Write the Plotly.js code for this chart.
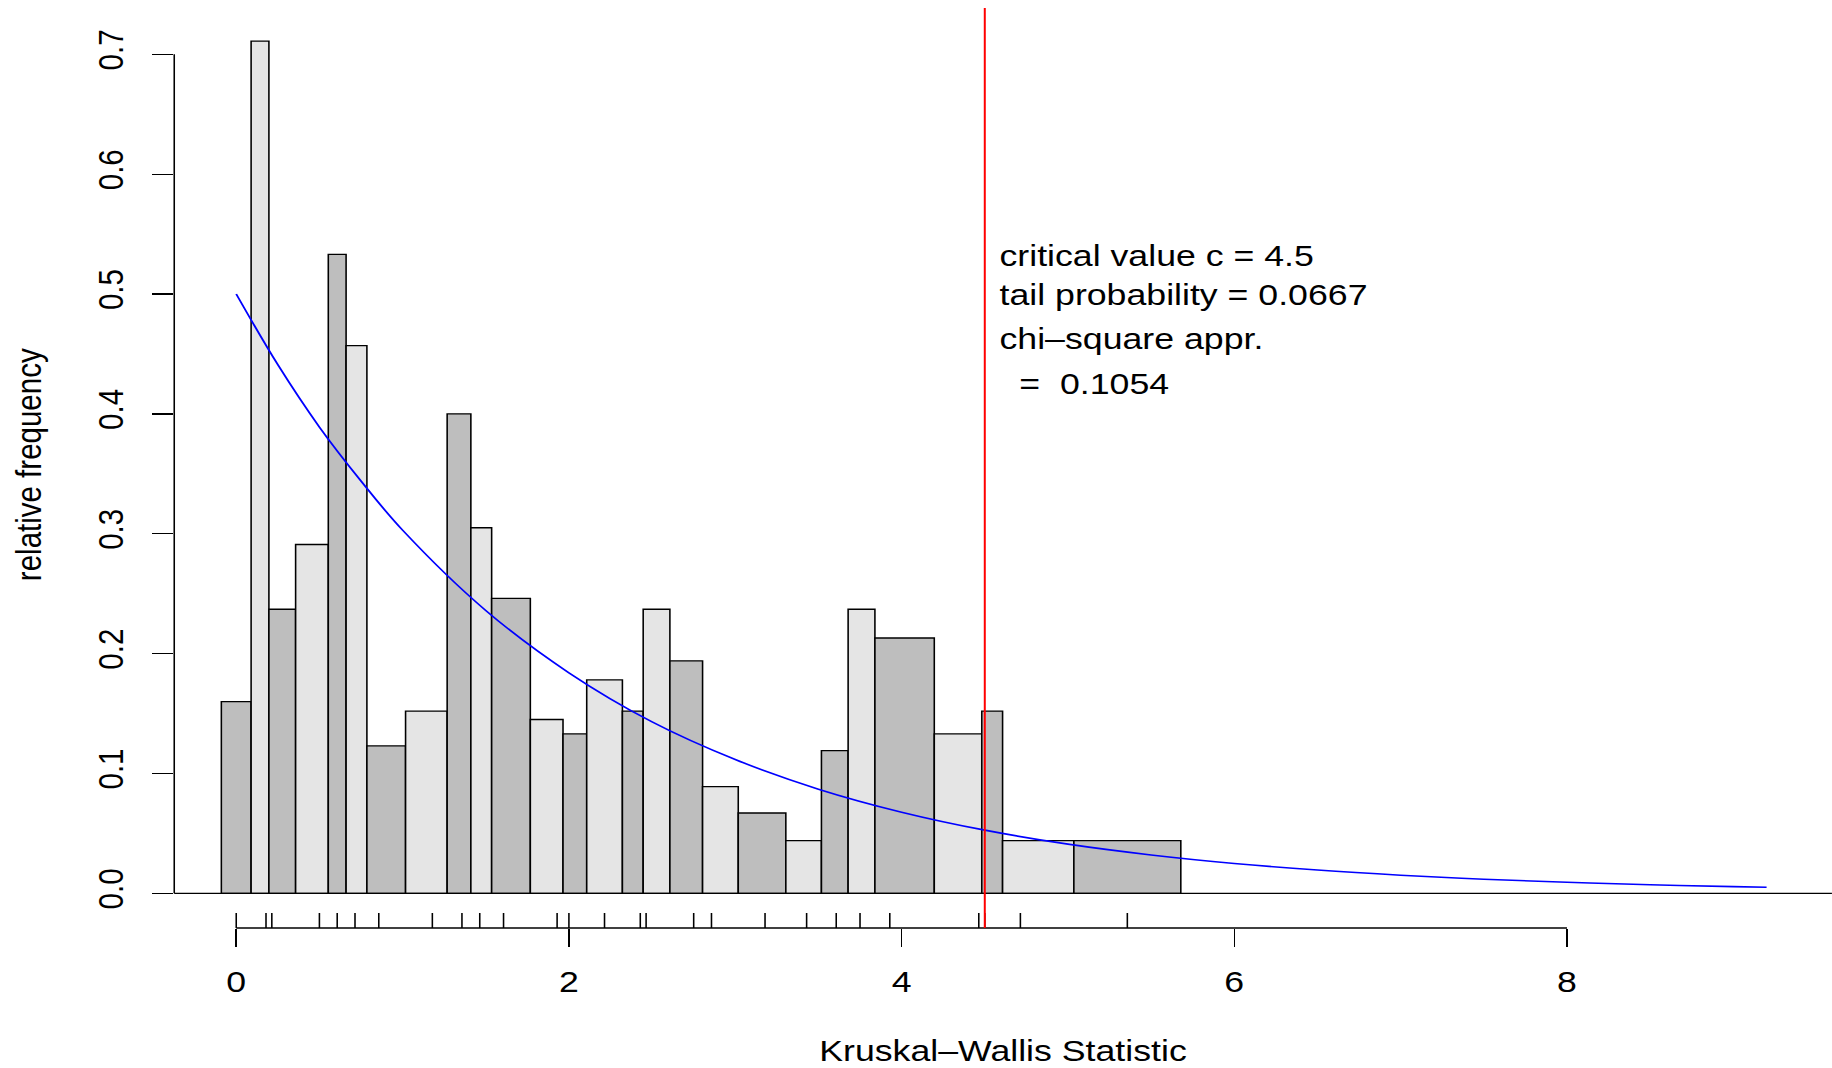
<!DOCTYPE html>
<html>
<head>
<meta charset="utf-8">
<script src="https://cdn.plot.ly/plotly-3.0.1.min.js"></script>
<style>
  html, body { margin: 0; padding: 0; background: #ffffff; overflow: hidden; }
  #wrap { width: 1832px; height: 1068px; overflow: hidden; position: relative; background: #fff; }
  #plot { position: absolute; left: 0; top: 0; transform-origin: 0 0; }
</style>
</head>
<body>
<div id="wrap"><div id="plot"></div></div>
<script>
// ---------------- data ----------------
// support points of the exact Kruskal-Wallis null distribution (rug ticks)
const support = [0, 0.179, 0.214, 0.5, 0.607, 0.714, 0.857, 1.179, 1.357, 1.464, 1.607,
                 1.929, 2.0, 2.214, 2.429, 2.464, 2.75, 2.857, 3.179, 3.429, 3.607, 3.75,
                 3.929, 4.464, 4.5, 4.714, 5.357];
// bar heights (relative frequency)
const relFreq = [0.160, 0.711, 0.237, 0.291, 0.533, 0.457, 0.123, 0.152, 0.400, 0.305, 0.246,
                 0.145, 0.133, 0.178, 0.152, 0.237, 0.194, 0.089, 0.067, 0.044, 0.119, 0.237,
                 0.213, 0.133, 0.152, 0.044, 0.044];
// chi-square approximation curve
const chiX = [0, 0.25, 0.5, 0.75, 1, 1.5, 2, 2.5, 3, 3.5, 4, 4.5, 5, 5.5, 6, 6.5, 7, 7.5, 8, 8.5, 9, 9.2];
const chiY = [0.500, 0.441, 0.389, 0.344, 0.303, 0.236, 0.184, 0.143, 0.1116, 0.0869, 0.0677, 0.0527,
              0.0410, 0.0320, 0.0249, 0.0194, 0.0151, 0.0117, 0.0092, 0.0071, 0.0056, 0.0050];
const critical = 4.5;
const xTickVals = [0, 2, 4, 6, 8];
const xTickText = ['0', '2', '4', '6', '8'];
const yTickVals = [0, 0.1, 0.2, 0.3, 0.4, 0.5, 0.6, 0.7];
const yTickText = ['0.0', '0.1', '0.2', '0.3', '0.4', '0.5', '0.6', '0.7'];
const infoLines = ['critical value c = 4.5', 'tail probability = 0.0667', 'chi\u2013square appr.',
                   '\u00a0\u00a0=\u00a0\u00a00.1054'];
const xTitle = 'Kruskal\u2013Wallis Statistic';
const yTitle = 'relative frequency';

// ---------------- geometry ----------------
const S = 1.21;                 // horizontal stretch of the reference rendering
const FULL_W = 1832, FULL_H = 1068;
const W = FULL_W / S;
const plotL = 174, plotR = 1832, plotT = 8, plotB = 928;   // plot region in page pixels
const x0px = 236, pxPerX = 166.375;                         // x = 0 position, pixels per unit
const y0px = 893.3, pxPerY = 1198.57;                       // y = 0 position, pixels per unit
const xRange = [(plotL - x0px) / pxPerX, (plotR - x0px) / pxPerX];
const yRange = [-(plotB - y0px) / pxPerY, (y0px - plotT) / pxPerY];
const plotH = plotB - plotT, plotW = plotR - plotL;
const FONT = 'Liberation Sans, Arial, Helvetica, sans-serif';
const FS = 29.5;
const LW = 1.3;

// bin edges: midpoints between neighbouring support points
const edges = [];
for (let i = 0; i < support.length - 1; i++) edges.push((support[i] + support[i + 1]) / 2);
const lefts = [2 * support[0] - edges[0]].concat(edges);
const rights = edges.concat([2 * support[support.length - 1] - edges[edges.length - 1]]);
const centers = lefts.map((l, i) => (l + rights[i]) / 2);
const widths = lefts.map((l, i) => rights[i] - l);
const colors = support.map((_, i) => (i % 2 === 0 ? '#BEBEBE' : '#E5E5E5'));

const traces = [
  { type: 'bar', x: centers, y: relFreq, width: widths,
    marker: { color: colors, line: { color: '#000000', width: LW } },
    hoverinfo: 'skip' },
  { type: 'scatter', mode: 'lines', x: chiX, y: chiY,
    line: { color: '#0000FF', width: 1.6, shape: 'spline', smoothing: 1 }, hoverinfo: 'skip' }
];

const shapes = [
  // y axis line (0 .. 0.7)
  { type: 'line', xref: 'paper', yref: 'y', x0: 0, x1: 0, y0: yTickVals[0], y1: yTickVals[yTickVals.length - 1],
    line: { color: '#000', width: LW } },
  // horizontal reference line at 0
  { type: 'line', xref: 'paper', yref: 'y', x0: 0, x1: 1, y0: 0, y1: 0, line: { color: '#000', width: LW } },
  // x axis line (0 .. 8)
  { type: 'line', xref: 'x', yref: 'paper', x0: xTickVals[0], x1: xTickVals[xTickVals.length - 1], y0: 0, y1: 0,
    line: { color: '#000', width: LW } }
].concat(support.map(v => ({
  type: 'line', xref: 'x', yref: 'paper', x0: v, x1: v, y0: 0, y1: 15 / plotH,
  line: { color: '#000', width: LW } })))
 .concat([{ type: 'line', xref: 'x', yref: 'paper', x0: critical, x1: critical, y0: 0, y1: 1,
    line: { color: '#FF0000', width: 2 / S } }]);

const px2paperX = p => (p - plotL) / plotW;
const px2paperY = p => (plotB - p) / plotH;
const infoCenters = [255.3, 294.3, 338.3, 383.3];
const annotations = infoLines.map((t, i) => ({
  text: t, xref: 'paper', yref: 'paper', x: px2paperX(997.5), y: px2paperY(infoCenters[i]),
  xanchor: 'left', yanchor: 'middle', showarrow: false, font: { family: FONT, size: FS, color: '#000' }
})).concat([
  { text: xTitle, xref: 'paper', yref: 'paper', x: 0.5, y: px2paperY(1050.5), xanchor: 'center', yanchor: 'middle',
    borderpad: 0, borderwidth: 0,
    showarrow: false, font: { family: FONT, size: FS, color: '#000' } },
  { text: yTitle, xref: 'paper', yref: 'paper', x: px2paperX(29), y: px2paperY(465), xanchor: 'center', yanchor: 'middle',
    textangle: -90, showarrow: false, font: { family: FONT, size: FS, color: '#000' } }
]);

const layout = {
  width: W, height: FULL_H,
  margin: { l: plotL / S, r: (FULL_W - plotR) / S, t: plotT, b: FULL_H - plotB, pad: 0 },
  paper_bgcolor: '#ffffff', plot_bgcolor: '#ffffff', showlegend: false,
  xaxis: { range: xRange, tickmode: 'array', tickvals: xTickVals, ticktext: xTickText,
    ticks: 'outside', ticklen: 18, tickwidth: LW, tickcolor: '#000', ticklabelstandoff: 10,
    showline: false, zeroline: false, showgrid: false, fixedrange: true,
    tickfont: { family: FONT, size: FS, color: '#000' } },
  yaxis: { range: yRange, tickmode: 'array', tickvals: yTickVals, ticktext: yTickText,
    ticks: 'outside', ticklen: 21 / S, tickwidth: LW, tickcolor: '#000', tickangle: -90,
    ticklabelstandoff: 12,
    showline: false, zeroline: false, showgrid: false, fixedrange: true,
    tickfont: { family: FONT, size: FS, color: '#000' } },
  shapes: shapes,
  annotations: annotations
};

const el = document.getElementById('plot');
el.style.width = W + 'px';
el.style.height = FULL_H + 'px';
Plotly.newPlot(el, traces, layout, { displayModeBar: false, staticPlot: true }).then(() => {
  el.style.transform = 'scaleX(' + S + ')';
});
</script>
</body>
</html>
